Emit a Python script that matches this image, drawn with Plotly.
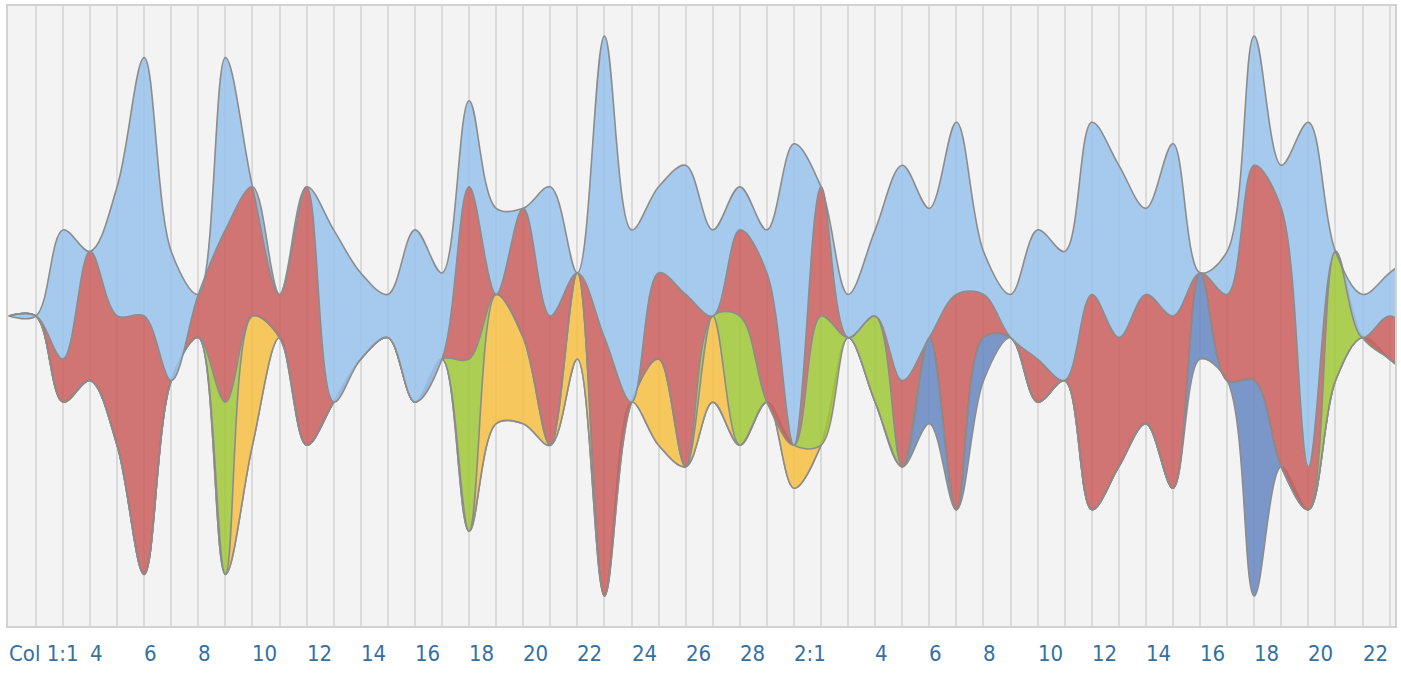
import plotly.graph_objects as go

# ---- data (integer units) ----
categories = [f"1:{k}" for k in range(1, 30)] + [f"2:{k}" for k in range(1, 25)]

blue = [0, 0, 3, 0, 3, 6, 3, 0, 4, 0,
        0, 0, 4, 2, 1, 4, 2, 2, 2, 0,
        3, 0, 7, 4, 2, 3, 2, 1, 1, 7,
        0, 1, 2, 5, 3, 4, 1, 1, 3, 3,
        4, 4, 2, 4, 0, 1, 3, 1, 8, 0,
        1, 1, 2]
red = [0, 0, 1, 3, 3, 6, 0, 1, 4, 3,
       1, 6, 0, 0, 0, 0, 0, 4, 0, 3,
       3, 0, 6, 0, 2, 4, 0, 2, 3, 0,
       3, 0, 0, 2, 0, 5, 1, 0, 1, 0,
       5, 3, 3, 4, 0, 2, 5, 6, 1, 0,
       0, 1, 1]
green = [0, 0, 0, 0, 0, 0, 0, 0, 4, 0,
         0, 0, 0, 0, 0, 0, 0, 4, 0, 0,
         0, 0, 0, 0, 0, 0, 0, 3, 0, 0,
         3, 0, 2, 0, 0, 0, 0, 0, 0, 0,
         0, 0, 0, 0, 0, 0, 0, 0, 0, 3,
         0, 0, 0]
yellow = [0, 0, 0, 0, 0, 0, 0, 0, 0, 3,
          0, 0, 0, 0, 0, 0, 0, 0, 3, 2,
          0, 2, 0, 0, 2, 0, 2, 0, 0, 1,
          0, 0, 0, 0, 0, 0, 0, 0, 0, 0,
          0, 0, 0, 0, 0, 0, 0, 0, 0, 0,
          0, 0, 0]
darkblue = [0, 0, 0, 0, 0, 0, 0, 0, 0, 0,
            0, 0, 0, 0, 0, 0, 0, 0, 0, 0,
            0, 0, 0, 0, 0, 0, 0, 0, 0, 0,
            0, 0, 0, 0, 2, 0, 1, 0, 0, 0,
            0, 0, 0, 0, 2, 0, 5, 0, 0, 0,
            0, 0, 0]

tick_index = [0, 3, 5, 7, 9, 11, 13, 15, 17, 19, 21, 23, 25, 27,
              29, 32, 34, 36, 38, 40, 42, 44, 46, 48, 50]
tick_text = ["Col 1:1", "4", "6", "8", "10", "12", "14", "16", "18", "20", "22", "24", "26", "28",
             "2:1", "4", "6", "8", "10", "12", "14", "16", "18", "20", "22"]

# ---- styling ----
BG = (243, 243, 243)
ALPHA = 0.86


def see_through(rgb):
    r, g, b = [max(0, min(255, round((c - (1 - ALPHA) * bgc) / ALPHA))) for c, bgc in zip(rgb, BG)]
    return f"rgba({r},{g},{b},{ALPHA})"


series = [  # bottom of stack first
    ("Series E", darkblue, (123, 150, 202)),
    ("Series D", yellow, (246, 198, 92)),
    ("Series C", green, (170, 205, 82)),
    ("Series B", red, (208, 117, 114)),
    ("Series A", blue, (164, 201, 236)),
]
EDGE = "rgb(140,140,140)"
LW = 1.6
SMOOTH = 1.0

n = len(blue)
x = list(range(n))
totals = [sum(s[1][i] for s in series) for i in range(n)]
baseline = [-t / 2 for t in totals]

fig = go.Figure()
fig.add_trace(go.Scatter(
    x=x, y=baseline, stackgroup="s", fill="none", mode="lines",
    line=dict(color=EDGE, width=LW, shape="spline", smoothing=SMOOTH),
    showlegend=False, hoverinfo="skip"))
for name, vals, rgb in series:
    fig.add_trace(go.Scatter(
        x=x, y=vals, name=name, stackgroup="s", fill="tonexty", mode="lines",
        fillcolor=see_through(rgb),
        line=dict(color=EDGE, width=LW, shape="spline", smoothing=SMOOTH),
        customdata=[categories[i] for i in x],
        hovertemplate="%{customdata}: %{y}<extra>" + name + "</extra>",
        showlegend=False))

grid_col = "rgb(218,218,218)"
fig.update_xaxes(
    range=[-0.03, 51.2], showticklabels=False, ticks="",
    tickmode="array", tickvals=list(range(1, 53)),
    showgrid=True, gridcolor=grid_col, gridwidth=1.5, zeroline=False,
    showline=True, mirror=True, linecolor="rgb(210,210,210)", linewidth=1.5)
fig.update_yaxes(
    range=[-7.2, 7.2], showticklabels=False, ticks="", showgrid=False, zeroline=False,
    showline=True, mirror=True, linecolor="rgb(210,210,210)", linewidth=1.5)

label_font = dict(family="DejaVu Sans Condensed, sans-serif",
                  size=22, color="rgb(52,112,160)")
for idx, txt in zip(tick_index, tick_text):
    fig.add_annotation(x=idx, xref="x", y=0, yref="paper", text=txt, showarrow=False,
                       xanchor="left", yanchor="top", yshift=-13, xshift=-2, font=label_font)

fig.update_layout(
    width=1401, height=673,
    margin=dict(l=8, r=4, t=6, b=47),
    paper_bgcolor="white",
    plot_bgcolor="rgb(243,243,243)",
    showlegend=False,
)

fig.write_html("out.html", config={"displayModeBar": False},
               post_script="document.body.style.margin='0px';")
